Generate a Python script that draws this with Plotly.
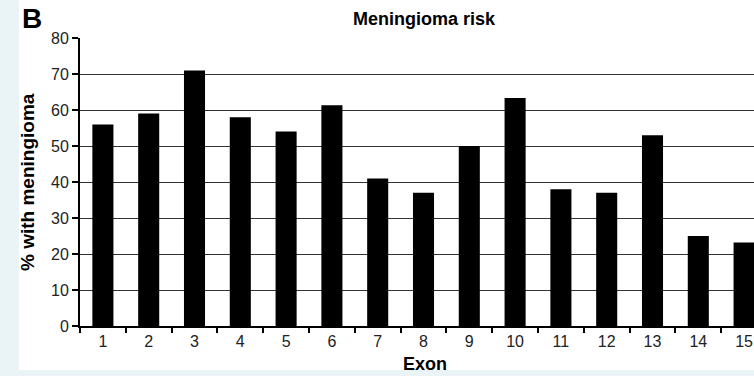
import plotly.graph_objects as go

exons = [str(i) for i in range(1, 16)]
pct_meningioma = [56, 59, 71, 58, 54, 61.3, 41, 37, 50, 63.3, 38, 37, 53, 25, 23.2]
y_ticks = [0, 10, 20, 30, 40, 50, 60, 70, 80]

W, H = 754, 376
L, R, T, B = 80, 0, 38, 50
pw = W - L - R
ph = H - T - B

fig = go.Figure()
fig.add_trace(go.Bar(
    x=exons, y=pct_meningioma,
    marker=dict(color="black", line=dict(width=0)),
    width=0.46,
))

font = "Liberation Sans, Arial, sans-serif"

fig.update_layout(
    width=W, height=H,
    margin=dict(l=L, r=R, t=T, b=B, pad=0),
    paper_bgcolor="#eaf3f6",
    plot_bgcolor="white",
    showlegend=False,
    font=dict(family=font, color="#111", size=16),
    shapes=[dict(type="rect", xref="paper", yref="paper",
                 x0=-(L - 19) / pw, x1=1.0,
                 y0=-(370 - (H - B)) / ph, y1=(H - B) / ph,
                 fillcolor="white", line=dict(width=0), layer="below")],
    annotations=[
        dict(text="<b>B</b>", xref="paper", yref="paper", x=-(L - 20) / pw, y=1, xanchor="left", yanchor="middle",
             yshift=T - 18, showarrow=False, font=dict(size=28, color="black", family=font)),
        dict(text="<b>Meningioma risk</b>", xref="paper", yref="paper", x=(424 - L) / pw, y=1, xanchor="center",
             yanchor="middle", yshift=T - 19, showarrow=False, font=dict(size=18, color="black", family=font)),
        dict(text="<b>% with meningioma</b>", xref="paper", yref="paper", x=0, y=((H - B) - 182) / ph,
             xanchor="center", yanchor="middle", xshift=-(L - 27), textangle=-90, showarrow=False,
             font=dict(size=19, color="black", family=font)),
        dict(text="<b>Exon</b>", xref="paper", yref="paper", x=(425 - L) / pw, y=0, xanchor="center",
             yanchor="middle", yshift=-(364 - (H - B)), showarrow=False,
             font=dict(size=18, color="black", family=font)),
    ],
)

fig.update_xaxes(
    type="category", range=[-0.5, -0.5 + pw / 45.8],
    tickson="boundaries", ticks="outside", ticklen=5, tickwidth=2, tickcolor="black",
    showline=True, linecolor="black", linewidth=2, showgrid=False,
    tickfont=dict(size=16, color="#222"),
)
fig.update_yaxes(
    range=[0, 80], tickvals=y_ticks, ticks="outside", ticklen=6, tickwidth=2, tickcolor="black",
    showline=True, linecolor="black", linewidth=2,
    showgrid=True, gridcolor="#333", gridwidth=1, zeroline=False,
    tickfont=dict(size=16, color="#222"),
)

fig.write_html(
    "out.html",
    config={"displayModeBar": False},
    post_script="document.body.style.margin='0';document.body.style.overflow='hidden';"
                "document.body.style.background='#eaf3f6';",
)
